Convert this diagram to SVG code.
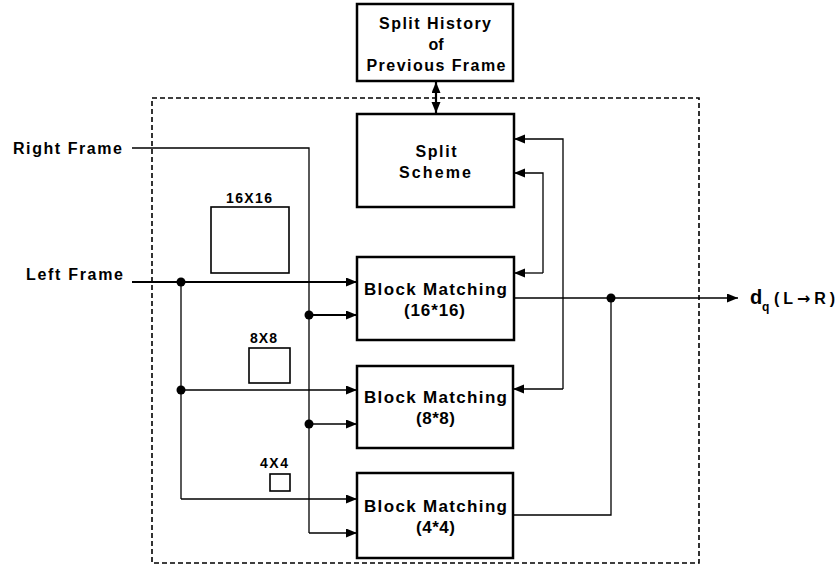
<svg xmlns="http://www.w3.org/2000/svg" width="836" height="576" viewBox="0 0 836 576">
<style>
  .box { fill: #fff; stroke: #000; stroke-width: 2.5; }
  .small { fill: #fff; stroke: #000; stroke-width: 1.6; }
  .t { font-family: "Liberation Sans", Arial, sans-serif; font-weight: bold; fill: #000; }
  .c { text-anchor: middle; }
  .ln { fill: none; stroke: #000; stroke-width: 1.3; }
  .thk { fill: none; stroke: #000; stroke-width: 2.2; }
  .arr { marker-end: url(#ah); }
  .dash { fill: none; stroke: #000; stroke-width: 1.6; stroke-dasharray: 5 3; }
</style>
<defs>
  <marker id="ah" markerUnits="userSpaceOnUse" markerWidth="12" markerHeight="10" refX="11" refY="4.5" orient="auto">
    <path d="M0,0 L11,4.5 L0,9 z" fill="#000"/>
  </marker>
  <marker id="ahs" markerUnits="userSpaceOnUse" markerWidth="12" markerHeight="10" refX="11" refY="4.5" orient="auto-start-reverse">
    <path d="M0,0 L11,4.5 L0,9 z" fill="#000"/>
  </marker>
</defs>

<rect id="boundary" class="dash" x="152" y="98" width="547" height="465"/>

<g id="connectors">
  <line class="thk" x1="436" y1="82" x2="436" y2="113" marker-start="url(#ahs)" marker-end="url(#ahs)"/>
  <line class="thk arr" x1="132" y1="282" x2="357" y2="282"/>
  <polyline class="ln" points="181,282 181,499"/>
  <line class="ln arr" x1="181" y1="390" x2="357" y2="390"/>
  <line class="ln arr" x1="181" y1="499" x2="357" y2="499"/>
  <polyline class="ln" points="132,148 309,148 309,533"/>
  <line class="thk arr" x1="309" y1="315" x2="357" y2="315"/>
  <line class="ln arr" x1="309" y1="424" x2="357" y2="424"/>
  <line class="ln arr" x1="309" y1="533" x2="357" y2="533"/>
  <polyline class="ln arr" points="563,389 563,139 514,139"/>
  <line class="ln arr" x1="563" y1="389" x2="513" y2="389"/>
  <polyline class="ln arr" points="543,273 543,173 514,173"/>
  <line class="ln arr" x1="543" y1="273" x2="514" y2="273"/>
  <line class="ln arr" x1="514" y1="298" x2="738" y2="298"/>
  <polyline class="ln" points="513,515 611,515 611,298"/>
  <circle cx="181" cy="282" r="4.5"/>
  <circle cx="181" cy="390" r="4.5"/>
  <circle cx="309" cy="315" r="4.5"/>
  <circle cx="309" cy="424" r="4.5"/>
  <circle cx="611" cy="298" r="4.5"/>
</g>

<g id="split-history">
  <rect class="box" x="357" y="4" width="156" height="77"/>
  <text class="t c" x="435" y="29" font-size="16" textLength="112" lengthAdjust="spacing">Split History</text>
  <text class="t c" x="436" y="50" font-size="16">of</text>
  <text class="t c" x="436" y="71" font-size="16" textLength="139" lengthAdjust="spacing">Previous Frame</text>
</g>

<g id="split-scheme">
  <rect class="box" x="357" y="114" width="157" height="93"/>
  <text class="t c" x="436" y="157" font-size="16" textLength="41" lengthAdjust="spacing">Split</text>
  <text class="t c" x="435" y="178" font-size="16" textLength="72" lengthAdjust="spacing">Scheme</text>
</g>

<g id="bm16">
  <rect class="box" x="357" y="257" width="157" height="83"/>
  <text class="t c" x="435.5" y="295" font-size="17" textLength="143" lengthAdjust="spacing">Block Matching</text>
  <text class="t c" x="434.5" y="316" font-size="17" textLength="61" lengthAdjust="spacing">(16*16)</text>
</g>

<g id="bm8">
  <rect class="box" x="357" y="366" width="156" height="82"/>
  <text class="t c" x="435.5" y="403" font-size="17" textLength="143" lengthAdjust="spacing">Block Matching</text>
  <text class="t c" x="435.5" y="424" font-size="17" textLength="39" lengthAdjust="spacing">(8*8)</text>
</g>

<g id="bm4">
  <rect class="box" x="357" y="473" width="156" height="85"/>
  <text class="t c" x="435.5" y="512" font-size="17" textLength="143" lengthAdjust="spacing">Block Matching</text>
  <text class="t c" x="435.5" y="533" font-size="17" textLength="39" lengthAdjust="spacing">(4*4)</text>
</g>

<g id="block16">
  <rect class="small" x="211" y="207" width="78" height="66"/>
  <text class="t c" x="249" y="203" font-size="14" textLength="46" lengthAdjust="spacing">16X16</text>
</g>
<g id="block8">
  <rect class="small" x="249" y="348" width="41" height="35"/>
  <text class="t c" x="263.5" y="343" font-size="14" textLength="27" lengthAdjust="spacing">8X8</text>
</g>
<g id="block4">
  <rect class="small" x="270" y="474" width="20" height="17"/>
  <text class="t c" x="274" y="468" font-size="14" textLength="28" lengthAdjust="spacing">4X4</text>
</g>

<g id="right-frame">
  <text class="t" x="13" y="154" font-size="16" textLength="109" lengthAdjust="spacing">Right Frame</text>
</g>
<g id="left-frame">
  <text class="t" x="26" y="280" font-size="16" textLength="97" lengthAdjust="spacing">Left Frame</text>
</g>

<g id="output">
  <text class="t" x="750" y="304" font-size="20">d</text>
  <text class="t" x="762" y="311" font-size="12">q</text>
  <text class="t" x="774" y="304" font-size="16" textLength="61" lengthAdjust="spacing">(L<tspan font-family="DejaVu Sans">→</tspan>R)</text>
</g>
</svg>
